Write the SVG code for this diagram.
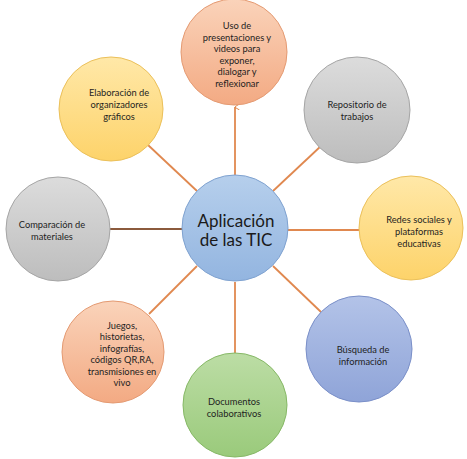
<svg xmlns="http://www.w3.org/2000/svg" width="467" height="459" viewBox="0 0 467 459">
  <defs>
    <linearGradient id="gSalmon" x1="0" y1="0" x2="0" y2="1">
      <stop offset="0" stop-color="#FAD3BA"/><stop offset="1" stop-color="#F3AA83"/>
    </linearGradient>
    <linearGradient id="gYellow" x1="0" y1="0" x2="0" y2="1">
      <stop offset="0" stop-color="#FFE8A8"/><stop offset="1" stop-color="#FDD36A"/>
    </linearGradient>
    <linearGradient id="gGray" x1="0" y1="0" x2="0" y2="1">
      <stop offset="0" stop-color="#DCDCDC"/><stop offset="1" stop-color="#BDBDBD"/>
    </linearGradient>
    <linearGradient id="gBlue" x1="0" y1="0" x2="0" y2="1">
      <stop offset="0" stop-color="#B6CFEC"/><stop offset="1" stop-color="#93B5E0"/>
    </linearGradient>
    <linearGradient id="gPurple" x1="0" y1="0" x2="0" y2="1">
      <stop offset="0" stop-color="#B3C3E8"/><stop offset="1" stop-color="#8FA4D8"/>
    </linearGradient>
    <linearGradient id="gGreen" x1="0" y1="0" x2="0" y2="1">
      <stop offset="0" stop-color="#BCDDA5"/><stop offset="1" stop-color="#9ACA7B"/>
    </linearGradient>
    <marker id="arr" viewBox="0 0 6 6" refX="3" refY="0.5" markerWidth="6" markerHeight="6" orient="auto-start-reverse" markerUnits="userSpaceOnUse">
      <path d="M0,5 L3,0 L6,5" fill="none" stroke="#E0884F" stroke-width="1"/>
    </marker>
    <style>
      .c { stroke-width: 1; }
      .salmon { fill: url(#gSalmon); stroke: #E49A72; }
      .yellow { fill: url(#gYellow); stroke: #EBC05A; }
      .gray { fill: url(#gGray); stroke: #A5A5A5; }
      .blue { fill: url(#gBlue); stroke: #7FA2D0; }
      .purple { fill: url(#gPurple); stroke: #7A8FC8; }
      .green { fill: url(#gGreen); stroke: #86B866; }
      text { font-family: Lato, "Liberation Sans", sans-serif; font-size: 9.3px; fill: #1E1E1E; text-anchor: middle; }
      .big { font-size: 17px; fill: #1A1A1A; }
      .ln { stroke: #E0884F; stroke-width: 1.8; fill: none; }
      .ln2 { stroke: #8B5A3C; stroke-width: 2; fill: none; }
    </style>
  </defs>
  <g id="connectors">
    <line class="ln" x1="235" y1="176" x2="235" y2="107" marker-end="url(#arr)"/>
    <line class="ln" x1="197" y1="191" x2="148" y2="145"/>
    <line class="ln" x1="273" y1="191" x2="321" y2="146"/>
    <line class="ln2" x1="183" y1="229" x2="109" y2="229"/>
    <line class="ln" x1="287" y1="230" x2="360" y2="230"/>
    <line class="ln" x1="197" y1="266" x2="149" y2="314"/>
    <line class="ln" x1="273" y1="266" x2="321" y2="312"/>
    <line class="ln" x1="235" y1="282" x2="235" y2="354"/>
  </g>
  <g id="n-center">
    <circle class="c blue" cx="235" cy="228" r="53"/>
    <text class="big" x="236" y="227">Aplicación</text>
    <text class="big" x="236" y="246">de las TIC</text>
  </g>
  <g id="n-uso">
    <circle class="c salmon" cx="234" cy="52" r="53"/>
    <text x="237" y="28.5">Uso de</text>
    <text x="237" y="40.5">presentaciones y</text>
    <text x="237" y="52">videos para</text>
    <text x="237" y="63.5">exponer,</text>
    <text x="237" y="75">dialogar y</text>
    <text x="237" y="86.5">reflexionar</text>
  </g>
  <g id="n-elaboracion">
    <circle class="c yellow" cx="111" cy="109" r="52"/>
    <text x="119" y="96">Elaboración de</text>
    <text x="119" y="108">organizadores</text>
    <text x="119" y="120">gráficos</text>
  </g>
  <g id="n-repositorio">
    <circle class="c gray" cx="357" cy="110" r="53"/>
    <text x="357" y="107.5">Repositorio de</text>
    <text x="357" y="119.5">trabajos</text>
  </g>
  <g id="n-comparacion">
    <circle class="c gray" cx="58" cy="229" r="52"/>
    <text x="52" y="228">Comparación de</text>
    <text x="52" y="240">materiales</text>
  </g>
  <g id="n-redes">
    <circle class="c yellow" cx="411" cy="228" r="52"/>
    <text x="419" y="223">Redes sociales y</text>
    <text x="419" y="235">plataformas</text>
    <text x="419" y="246.5">educativas</text>
  </g>
  <g id="n-juegos">
    <circle class="c salmon" cx="113" cy="352" r="51"/>
    <text x="122" y="328.5">Juegos,</text>
    <text x="122" y="340">historietas,</text>
    <text x="122" y="351.5">infografías,</text>
    <text x="122" y="363">códigos QR,RA,</text>
    <text x="122" y="374.5">transmisiones en</text>
    <text x="122" y="386">vivo</text>
  </g>
  <g id="n-busqueda">
    <circle class="c purple" cx="359" cy="349" r="53"/>
    <text x="363" y="353">Búsqueda de</text>
    <text x="363" y="364.5">información</text>
  </g>
  <g id="n-documentos">
    <circle class="c green" cx="235" cy="405" r="52"/>
    <text x="234" y="405">Documentos</text>
    <text x="234" y="416.5">colaborativos</text>
  </g>
</svg>
